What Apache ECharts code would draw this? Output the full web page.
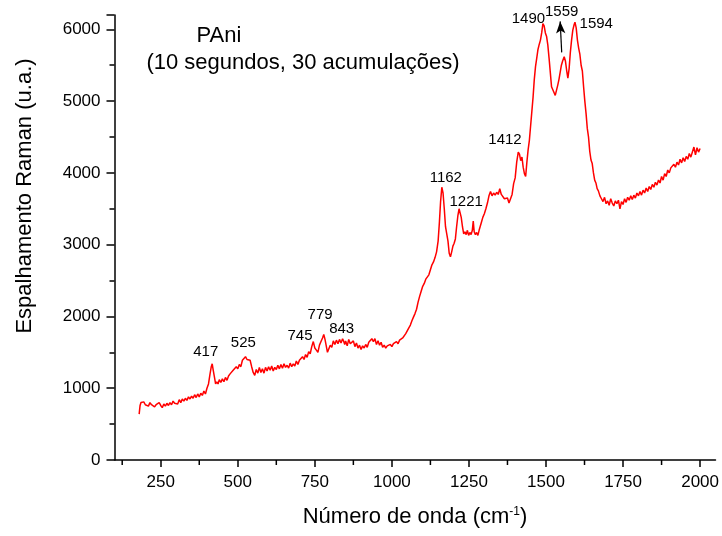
<!DOCTYPE html>
<html><head><meta charset="utf-8">
<script src="https://cdn.jsdelivr.net/npm/echarts@6/dist/echarts.min.js"></script>
<style>html,body{margin:0;padding:0;background:#fff}#c{width:722px;height:536px}</style>
</head><body><div id="c"></div>
<script>
// [wavenumber (cm-1), Raman intensity (u.a.)]
const spectrum = [[180,640],[183,760],[186,800],[190,780],[195,810],[200,770],[205,790],[210,750],[215,800],[220,770],[225,790],[230,740],[235,770],[240,760],[245,800],[250,760],[255,730],[260,780],[265,750],[270,790],[275,760],[280,800],[285,770],[290,820],[295,790],[300,810],[305,780],[310,840],[315,800],[320,850],[325,820],[330,860],[335,830],[340,880],[345,850],[350,890],[355,860],[360,910],[365,870],[370,920],[375,880],[380,930],[385,900],[390,960],[395,920],[400,1000],[405,1060],[410,1200],[414,1300],[417,1340],[420,1260],[424,1160],[428,1060],[432,1090],[436,1060],[440,1120],[445,1080],[450,1130],[455,1090],[460,1150],[465,1110],[470,1170],[475,1200],[480,1180],[485,1250],[490,1230],[495,1300],[500,1270],[505,1330],[510,1300],[515,1390],[520,1370],[525,1440],[530,1400],[535,1420],[540,1390],[545,1300],[550,1220],[555,1180],[560,1260],[565,1210],[570,1290],[575,1220],[580,1270],[585,1210],[590,1290],[595,1240],[600,1300],[605,1250],[610,1310],[615,1240],[620,1290],[625,1260],[630,1320],[635,1270],[640,1330],[645,1280],[650,1340],[655,1290],[660,1320],[665,1280],[670,1350],[675,1300],[680,1340],[685,1310],[690,1380],[695,1330],[700,1390],[705,1370],[710,1440],[715,1400],[720,1470],[725,1430],[730,1510],[735,1480],[740,1580],[745,1650],[750,1560],[755,1530],[760,1500],[765,1600],[770,1650],[775,1700],[779,1750],[783,1680],[787,1590],[791,1500],[795,1520],[800,1600],[805,1570],[810,1660],[815,1610],[820,1670],[825,1620],[830,1680],[835,1630],[840,1690],[843,1660],[847,1610],[850,1660],[855,1590],[860,1680],[865,1620],[870,1600],[875,1660],[880,1580],[885,1630],[890,1560],[895,1600],[900,1540],[905,1590],[910,1560],[915,1610],[920,1570],[925,1640],[930,1620],[935,1690],[940,1650],[945,1690],[950,1610],[955,1660],[960,1600],[965,1640],[970,1570],[975,1600],[980,1560],[985,1590],[990,1570],[995,1610],[1000,1580],[1005,1620],[1010,1600],[1015,1650],[1020,1620],[1025,1670],[1030,1650],[1035,1700],[1040,1710],[1045,1760],[1050,1780],[1055,1840],[1060,1880],[1065,1940],[1070,1990],[1075,2040],[1080,2100],[1085,2200],[1090,2280],[1095,2350],[1100,2420],[1105,2460],[1110,2520],[1115,2540],[1120,2580],[1125,2650],[1130,2720],[1135,2760],[1140,2820],[1145,2900],[1150,3050],[1154,3300],[1158,3600],[1162,3800],[1166,3720],[1170,3500],[1174,3250],[1178,3150],[1182,3050],[1186,2880],[1190,2830],[1194,2900],[1198,2980],[1202,3020],[1206,3080],[1210,3250],[1214,3400],[1218,3500],[1221,3520],[1225,3380],[1229,3250],[1233,3150],[1237,3180],[1241,3140],[1245,3200],[1249,3130],[1253,3170],[1257,3140],[1261,3200],[1264,3330],[1267,3180],[1271,3140],[1275,3170],[1279,3130],[1283,3200],[1287,3260],[1291,3320],[1295,3380],[1300,3430],[1305,3500],[1310,3580],[1315,3680],[1320,3740],[1325,3680],[1330,3720],[1335,3690],[1340,3730],[1345,3700],[1350,3780],[1355,3700],[1360,3720],[1365,3640],[1370,3620],[1375,3650],[1380,3580],[1385,3600],[1390,3700],[1395,3850],[1400,3930],[1405,4150],[1410,4290],[1414,4260],[1418,4170],[1422,4220],[1426,4080],[1430,3990],[1434,3950],[1438,4150],[1442,4320],[1446,4450],[1450,4650],[1454,4850],[1458,5050],[1462,5300],[1466,5480],[1470,5600],[1474,5720],[1478,5790],[1482,5850],[1486,5950],[1490,6080],[1494,6050],[1498,5950],[1502,5900],[1506,5780],[1510,5600],[1514,5400],[1518,5200],[1522,5180],[1526,5120],[1530,5080],[1534,5150],[1538,5220],[1542,5300],[1546,5400],[1550,5500],[1554,5560],[1559,5620],[1563,5560],[1567,5430],[1571,5320],[1575,5450],[1579,5680],[1583,5850],[1587,5990],[1591,6060],[1594,6100],[1598,6020],[1602,5850],[1606,5740],[1610,5650],[1614,5500],[1618,5420],[1622,5200],[1626,5000],[1630,4830],[1634,4620],[1638,4500],[1642,4300],[1646,4180],[1650,4130],[1654,4000],[1658,3900],[1662,3860],[1666,3780],[1670,3750],[1675,3680],[1680,3640],[1685,3600],[1690,3660],[1695,3570],[1700,3610],[1705,3550],[1710,3640],[1715,3580],[1720,3540],[1725,3610],[1730,3570],[1735,3620],[1740,3500],[1745,3600],[1750,3560],[1755,3640],[1760,3590],[1765,3660],[1770,3620],[1775,3680],[1780,3630],[1785,3690],[1790,3650],[1795,3720],[1800,3680],[1805,3740],[1810,3690],[1815,3760],[1820,3720],[1825,3790],[1830,3740],[1835,3810],[1840,3770],[1845,3840],[1850,3800],[1855,3870],[1860,3830],[1865,3900],[1870,3860],[1875,3950],[1880,3900],[1885,3990],[1890,3950],[1895,4040],[1900,4000],[1905,4070],[1910,4050],[1915,4120],[1920,4080],[1925,4150],[1930,4110],[1935,4190],[1940,4140],[1945,4210],[1950,4160],[1955,4230],[1960,4190],[1965,4270],[1970,4220],[1975,4290],[1980,4360],[1985,4250],[1990,4350],[1995,4290],[2000,4340]];
const xTicks = [250,500,750,1000,1250,1500,1750,2000];
const xMinorTicks = [125,375,625,875,1125,1375,1625,1875];
const peakLabels = ['417','525','745','779','843','1162','1221','1412','1490','1559','1594'];
const peakLabelX = [396,518,702,767,837,1175,1241,1367,1443,1551,1663];
const peakLabelY = [1511,1637,1730,2023,1824,3930,3590,4465,6149,6241,6070];
const arrowFrom = [1551,5679];
const arrowTo = [1546,6111];

const FONT = "'Liberation Sans', Arial, sans-serif";
const chart = echarts.init(document.getElementById('c'), null, {renderer:'canvas'});
chart.setOption({
  animation:false,
  backgroundColor:'#fff',
  grid:{left:114.5,right:6.5,top:15,bottom:76,containLabel:false},
  xAxis:{type:'value',min:100,max:2050,interval:125,
    name:'{n|Número de onda (cm}{s|-1}{n|)}',nameLocation:'middle',nameGap:46,
    nameTextStyle:{rich:{n:{fontSize:22,fontFamily:FONT,color:'#000'},s:{fontSize:12,fontFamily:FONT,color:'#000',verticalAlign:'top',padding:[0,0,9,0]}}},
    axisLine:{show:true,onZero:false,lineStyle:{color:'#000',width:1.5}},
    axisTick:{show:true,inside:false,length:7,lineStyle:{color:'#000',width:1.5},customValues:xTicks},
    axisLabel:{fontSize:17,fontFamily:FONT,color:'#000',margin:14,customValues:xTicks,formatter:v=>String(v)},
    splitLine:{show:false}},
  yAxis:{type:'value',min:0,max:6200,interval:1000,
    axisLine:{show:true,lineStyle:{color:'#000',width:1.5}},
    axisTick:{show:true,length:8,lineStyle:{color:'#000',width:1.5}},
    minorTick:{show:true,splitNumber:2,length:5,lineStyle:{color:'#000',width:1.5}},
    axisLabel:{fontSize:17,fontFamily:FONT,color:'#000',margin:14,showMaxLabel:false,formatter:v=>String(v)},
    splitLine:{show:false}},
  series:[{type:'line',data:spectrum,symbol:'none',clip:false,
    lineStyle:{color:'#ff0000',width:1.5},
    markLine:{silent:true,symbol:['none','arrow'],symbolSize:[7,12],
      label:{show:false},lineStyle:{color:'#000',width:1.2,type:'solid'},
      data:[[{coord:arrowFrom},{coord:arrowTo}]]}}]
});
const g = [];
xMinorTicks.forEach(v=>{
  const p = chart.convertToPixel({gridIndex:0},[v,0]);
  g.push({type:'line',shape:{x1:p[0],y1:p[1],x2:p[0],y2:p[1]+5},style:{stroke:'#000',lineWidth:1.5}});
});
peakLabels.forEach((t,i)=>{
  const p = chart.convertToPixel({gridIndex:0},[peakLabelX[i],peakLabelY[i]]);
  g.push({type:'text',x:p[0],y:p[1],style:{text:t,fill:'#000',font:'15px '+FONT,align:'center',verticalAlign:'middle'}});
});
g.push({type:'text',x:219,y:36,style:{text:'PAni',fill:'#000',font:'22px '+FONT,align:'center',verticalAlign:'middle'}});
g.push({type:'text',x:303,y:63,style:{text:'(10 segundos, 30 acumulações)',fill:'#000',font:'22px '+FONT,align:'center',verticalAlign:'middle'}});
g.push({type:'text',x:25,y:196,rotation:Math.PI/2,style:{text:'Espalhamento Raman (u.a.)',fill:'#000',font:'22px '+FONT,align:'center',verticalAlign:'middle'}});
chart.setOption({graphic:g});
</script></body></html>
